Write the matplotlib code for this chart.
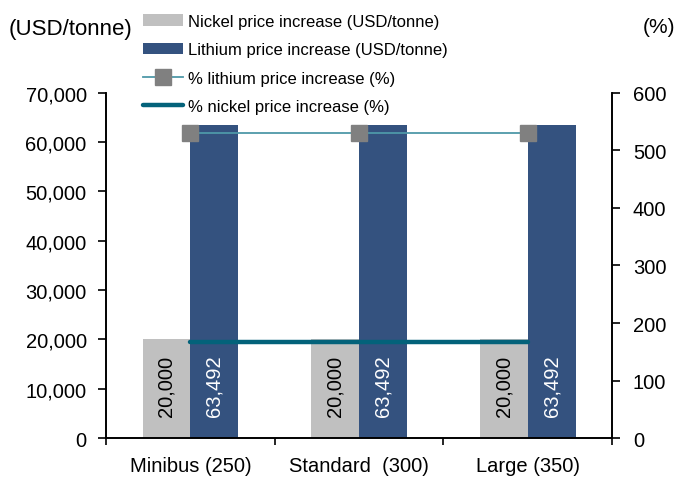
import matplotlib
matplotlib.use('Agg')
import matplotlib.pyplot as plt
import numpy as np

plt.rcParams['font.family'] = ['Liberation Sans', 'DejaVu Sans']
plt.rcParams['font.size'] = 14.5

CATEGORIES = ['Minibus (250)', 'Standard  (300)', 'Large (350)']
NICKEL_USD = [20000, 20000, 20000]
LITHIUM_USD = [63492, 63492, 63492]
LITHIUM_PCT = [531, 531, 531]
NICKEL_PCT = [167, 167, 167]

GREY = '#c0c0c0'
BLUE = '#34527f'
TEAL = '#03627a'
LIGHT_TEAL = '#4e98a8'

x = np.arange(len(CATEGORIES))
width = 0.284

fig = plt.figure(figsize=(6.8, 4.81), dpi=100)
ax = fig.add_axes([0.156, 0.087, 0.744, 0.718])
ax2 = ax.twinx()

b1 = ax.bar(x - width / 2, NICKEL_USD, width, color=GREY, label='Nickel price increase (USD/tonne)')
b2 = ax.bar(x + width / 2, LITHIUM_USD, width, color=BLUE, label='Lithium price increase (USD/tonne)')

for xi, v in zip(x, NICKEL_USD):
    ax.text(xi - width / 2, 4500, f'{v:,}', rotation=90, ha='center', va='bottom', color='black', fontsize=14.5)
for xi, v in zip(x, LITHIUM_USD):
    ax.text(xi + width / 2, 4500, f'{v:,}', rotation=90, ha='center', va='bottom', color='white', fontsize=14.5)

l1, = ax2.plot(x, LITHIUM_PCT, color=LIGHT_TEAL, lw=1.3, marker='s', markersize=12,
               markerfacecolor='#808080', markeredgecolor='#808080', label='% lithium price increase (%)')
l2, = ax2.plot(x, NICKEL_PCT, color=TEAL, lw=3.2, solid_capstyle='round', label='% nickel price increase (%)')

ax.set_xlim(-0.5, 2.5)
ax.set_ylim(0, 70000)
ax2.set_ylim(0, 600)
ax.set_yticks(np.arange(0, 70001, 10000))
ax.set_yticklabels([f'{v:,}' for v in range(0, 70001, 10000)])
ax2.set_yticks(np.arange(0, 601, 100))

ax.set_xticks(x)
ax.set_xticklabels(CATEGORIES)
ax.set_xticks([-0.5, 0.5, 1.5, 2.5], minor=True)
ax.tick_params(axis='x', which='major', length=0, pad=13)
ax.tick_params(axis='x', which='minor', length=5, width=1.2, direction='out')
ax.tick_params(axis='y', length=6, width=1.2, direction='out', pad=8)
ax2.tick_params(axis='y', length=6, width=1.2, direction='out', pad=9)

for a in (ax, ax2):
    a.spines['top'].set_visible(False)
    for s in ('left', 'right', 'bottom'):
        a.spines[s].set_linewidth(1.2)

fig.text(0.012, 0.938, '(USD/tonne)', ha='left', va='center', fontsize=16)
fig.text(0.993, 0.943, '(%)', ha='right', va='center', fontsize=15)

fig.legend([b1, b2, l1, l2], [h.get_label() for h in (b1, b2, l1, l2)],
           loc='upper left', bbox_to_anchor=(0.188, 1.0), frameon=False,
           handlelength=2.4, handletextpad=0.3, labelspacing=0.8, fontsize=12)

fig.savefig('out.png', dpi=100)
